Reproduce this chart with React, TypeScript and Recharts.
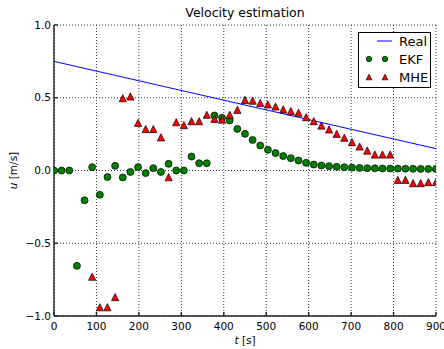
import {
  CartesianGrid,
  ComposedChart,
  Legend,
  Line,
  Scatter,
  XAxis,
  YAxis,
} from "recharts";

// sample times of the estimators [s]
const times = [
  0, 18, 36, 54, 72, 90, 108, 126, 144, 162, 180, 198, 216, 234, 252, 270, 288,
  306, 324, 342, 360, 378, 396, 414, 432, 450, 468, 486, 504, 522, 540, 558,
  576, 594, 612, 630, 648, 666, 684, 702, 720, 738, 756, 774, 792, 810, 828,
  846, 864, 882, 900,
];

const ekfValues = [
  0, 0, 0, -0.655, -0.205, 0.023, -0.167, -0.045, 0.032, -0.048, -0.01, 0.023,
  -0.018, 0.016, -0.01, 0.046, 0, 0, 0.096, 0.05, 0.05, 0.378, 0.362, 0.344,
  0.286, 0.252, 0.21, 0.172, 0.142, 0.12, 0.099, 0.085, 0.069, 0.053, 0.041,
  0.034, 0.03, 0.025, 0.023, 0.02, 0.018, 0.016, 0.015, 0.014, 0.013, 0.013,
  0.012, 0.012, 0.011, 0.011, 0.011,
];

// MHE only starts once its horizon is filled
const mheValues = [
  null, null, null, null, null, -0.73, -0.94, -0.94, -0.87, 0.497, 0.509, 0.328,
  0.285, 0.285, 0.228, -0.046, 0.332, 0.312, 0.339, 0.339, 0.383, 0.355, 0.35,
  0.383, 0.417, 0.485, 0.48, 0.465, 0.454, 0.44, 0.42, 0.408, 0.397, 0.367,
  0.339, 0.309, 0.282, 0.252, 0.225, 0.195, 0.165, 0.137, 0.11, 0.11, 0.11,
  -0.064, -0.064, -0.087, -0.087, -0.08, -0.08,
];

const realTimes = [0, 900];
const realValues = [0.75, 0.15];

const xTicks = [0, 100, 200, 300, 400, 500, 600, 700, 800, 900];
const yTicks = [-1, -0.5, 0, 0.5, 1];

const W = 444;
const H = 349;
const FONT = "'DejaVu Sans', sans-serif";
const FRAME = "#222";

const toPoints = (ts: number[], vs: (number | null)[]) =>
  ts
    .map((t, i) => ({ t, v: vs[i] }))
    .filter((p) => p.v !== null);

const realData = toPoints(realTimes, realValues);
const ekfData = toPoints(times, ekfValues);
const mheData = toPoints(times, mheValues);

const fmtY = (v: number) => (v < 0 ? "\u2212" + Math.abs(v).toFixed(1) : v.toFixed(1));

const Dot = ({ cx, cy, r = 3.5 }: any) => (
  <circle cx={cx} cy={cy} r={r} fill="#008000" stroke="#000" strokeWidth={0.7} />
);

const Tri = ({ cx, cy, s = 3.6 }: any) => (
  <path
    d={`M${cx},${cy - s}L${cx - s},${cy + s}L${cx + s},${cy + s}Z`}
    fill="#ff0000"
    stroke="#000"
    strokeWidth={0.7}
  />
);

const LegendBox = () => (
  <svg width={73} height={56} style={{ display: "block" }}>
    <rect x={0.5} y={0.5} width={72} height={55} fill="#fff" stroke="#000" />
    <line x1={19} y1={9} x2={34} y2={9} stroke="#0000ff" strokeWidth={1} />
    <Dot cx={11} cy={27} r={2.7} />
    <Dot cx={27} cy={27} r={2.7} />
    <Tri cx={11} cy={45} s={2.8} />
    <Tri cx={27} cy={45} s={2.8} />
    {["Real", "EKF", "MHE"].map((name, i) => (
      <text key={name} x={41} y={13.5 + i * 18} fontSize={13} fontFamily={FONT} fill="#000">
        {name}
      </text>
    ))}
  </svg>
);

const YLabel = ({ viewBox }: any) => {
  const x = viewBox.x + 17;
  const y = viewBox.y + viewBox.height / 2;
  return (
    <text
      x={x}
      y={y}
      transform={`rotate(-90 ${x} ${y})`}
      textAnchor="middle"
      fontSize={10.5}
      fontFamily={FONT}
      fill="#000"
    >
      <tspan fontStyle="italic">u</tspan> [m/s]
    </text>
  );
};

const XLabel = ({ viewBox }: any) => (
  <text
    x={viewBox.x + viewBox.width / 2}
    y={viewBox.y + 28}
    textAnchor="middle"
    fontSize={10.5}
    fontFamily={FONT}
    fill="#000"
  >
    <tspan fontStyle="italic">t</tspan> [s]
  </text>
);

const tickStyle = { fontSize: 10.5, fontFamily: FONT, fill: "#000" };

export default function App() {
  return (
    <div style={{ position: "absolute", left: 0, top: 0, width: W, height: H, background: "#fff" }}>
      <div
        style={{
          position: "absolute",
          left: 54,
          width: 382,
          top: 5,
          textAlign: "center",
          fontFamily: FONT,
          fontSize: 12.5,
          color: "#000",
        }}
      >
        Velocity estimation
      </div>
      <ComposedChart width={W} height={H} margin={{ top: 25, right: 8, bottom: 0, left: 0 }}>
        <CartesianGrid stroke="#000" strokeDasharray="1 2" strokeWidth={0.8} />
        <XAxis
          type="number"
          dataKey="t"
          domain={[0, 900]}
          ticks={xTicks}
          allowDataOverflow
          height={33}
          tick={tickStyle}
          tickSize={-4}
          tickMargin={11}
          stroke={FRAME}
          strokeWidth={1.4}
          label={<XLabel />}
        />
        <XAxis
          xAxisId="top"
          orientation="top"
          type="number"
          domain={[0, 900]}
          ticks={xTicks}
          height={0}
          tickSize={-4}
          tickFormatter={() => ""}
          stroke={FRAME}
          strokeWidth={1.4}
        />
        <YAxis
          type="number"
          dataKey="v"
          domain={[-1, 1]}
          ticks={yTicks}
          allowDataOverflow
          width={54}
          tick={tickStyle}
          tickSize={-4}
          tickMargin={7}
          tickFormatter={fmtY}
          stroke={FRAME}
          strokeWidth={1.4}
          label={<YLabel />}
        />
        <YAxis
          yAxisId="right"
          orientation="right"
          type="number"
          domain={[-1, 1]}
          ticks={yTicks}
          width={0}
          tickSize={-4}
          tickFormatter={() => ""}
          stroke={FRAME}
          strokeWidth={1.4}
        />
        <Line
          data={realData}
          dataKey="v"
          name="Real"
          stroke="#0000ff"
          strokeWidth={1}
          dot={false}
          isAnimationActive={false}
        />
        <Scatter data={ekfData} dataKey="v" name="EKF" shape={<Dot />} isAnimationActive={false} />
        <Scatter data={mheData} dataKey="v" name="MHE" shape={<Tri />} isAnimationActive={false} />
        <Legend
          layout="horizontal"
          verticalAlign="middle"
          align="center"
          content={<LegendBox />}
          wrapperStyle={{ left: 358, top: 32, width: 73, height: 56 }}
        />
      </ComposedChart>
    </div>
  );
}
